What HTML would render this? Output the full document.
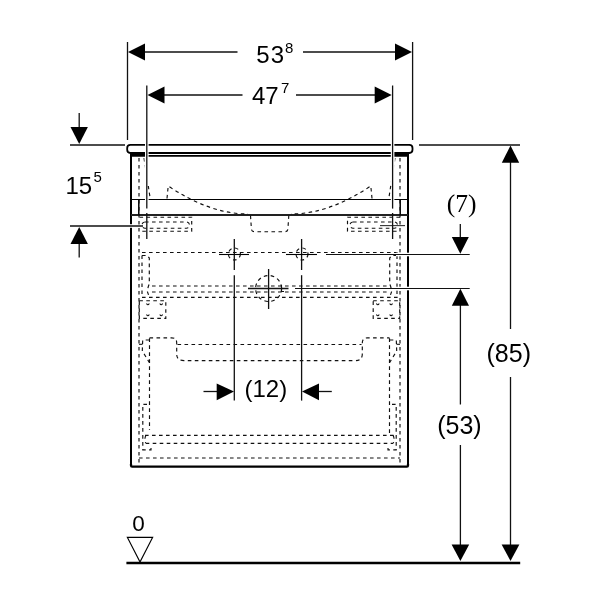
<!DOCTYPE html>
<html><head><meta charset="utf-8">
<style>
html,body{margin:0;padding:0;background:#fff;width:600px;height:600px;overflow:hidden}
svg{display:block;will-change:transform}
text{font-family:"Liberation Sans",sans-serif;fill:#000}
.serif{font-family:"Liberation Serif",serif}
</style></head><body>
<svg width="600" height="600" viewBox="0 0 600 600">
<rect width="600" height="600" fill="#fff"/>

<!-- ============ CABINET (solid) ============ -->
<g stroke="#000" fill="none">
  <rect x="127.2" y="144.9" width="285.3" height="8.1" rx="3.2" stroke-width="1.8"/>
  <line x1="131" y1="155.8" x2="408" y2="155.8" stroke-width="1.8"/>
  <rect x="131" y="153" width="14" height="2.8" fill="#000" stroke="none"/>
  <rect x="394" y="153" width="14" height="2.8" fill="#000" stroke="none"/>
  <line x1="131" y1="153" x2="131" y2="465" stroke-width="2"/>
  <line x1="408" y1="153" x2="408" y2="465" stroke-width="2"/>
  <path d="M131,464 L131,465.5 Q131,466.6 132.1,466.6 L406.9,466.6 Q408,466.6 408,465.5 L408,464" stroke-width="2.3" stroke-linejoin="round"/>
  <line x1="131" y1="199.5" x2="408" y2="199.5" stroke-width="1.15"/>
  <line x1="131" y1="215" x2="408" y2="215" stroke-width="1.8" stroke="#222"/>
  <line x1="138.8" y1="199.5" x2="138.8" y2="215" stroke-width="1.5"/>
  <line x1="400.2" y1="199.5" x2="400.2" y2="215" stroke-width="1.5"/>
</g>

<!-- dashed hidden lines -->
<g stroke="#111" stroke-width="1.15" fill="none" stroke-dasharray="3.6 3.4">
  <line x1="139" y1="158" x2="139" y2="466"/>
  <line x1="400" y1="158" x2="400" y2="466"/>
  <!-- basin -->
  <path d="M144,158 L150.2,198.5 M167,198.5 L168.2,186 Q210,214 248,214"/>
  <path d="M395,158 L388.8,198.5 M372,198.5 L370.8,186 Q329,214 291,214"/>
  <path d="M250.5,215.5 L251.4,229 Q251.7,231.7 254.5,231.7 L284.8,231.7 Q287.6,231.7 287.9,229 L288.8,215.5"/>
  <!-- brackets -->
  <path d="M139.5,217.2 L191.7,217.2 L191.7,231.2 L139.5,231.2"/>
  <path d="M400,217.2 L347.5,217.2 L347.5,231.2 L400,231.2"/>
  <rect x="142" y="222" width="47.5" height="6.2" rx="3"/>
  <rect x="350" y="222" width="47.5" height="6.2" rx="3"/>
  <!-- crosshair rows -->
  <line x1="142" y1="252.5" x2="399" y2="252.5"/>
  <circle cx="234.4" cy="254" r="6"/>
  <circle cx="302" cy="254" r="6"/>
  <circle cx="268.6" cy="288.5" r="13"/>
  <!-- upper drawer -->
  <path d="M142,255.5 L147,255.5 L149.3,258 L149.3,284 Q147.5,288 147.5,292 L149.3,297"/>
  <path d="M142,255.5 L142,297"/>
  <path d="M397,255.5 L392,255.5 L389.7,258 L389.7,284 Q391.5,288 391.5,292 L389.7,297"/>
  <path d="M397,255.5 L397,297"/>
  <line x1="152" y1="286" x2="387" y2="286"/>
  <line x1="152" y1="292" x2="387" y2="292"/>
  <line x1="142" y1="297.4" x2="399" y2="297.4"/>
  <rect x="139.3" y="300.7" width="26.5" height="17.6"/>
  <rect x="373.2" y="300.7" width="26.5" height="17.6"/>
  <!-- lower drawer -->
  <line x1="149.5" y1="338.3" x2="149.5" y2="430"/>
  <line x1="389.5" y1="338.3" x2="389.5" y2="435"/>
  <path d="M149.5,337.8 L171.5,337.8 Q176.7,337.8 176.7,343 L176.7,354 Q176.7,360.6 184,360.6 L355,360.6 Q362.3,360.6 362.3,354 L362.3,343 Q362.3,337.8 367.5,337.8 L389.5,337.8"/>
  <line x1="177.5" y1="344.5" x2="361.5" y2="344.5"/>
  <path d="M149.3,340 L142.7,340 L142.3,351 L149.5,362.7"/>
  <path d="M389.7,340 L396.3,340 L396.7,351 L389.5,362.7"/>
  <path d="M147,404.3 L142.8,404.3 L142.8,449.8 L151,449.8 L151,446"/>
  <path d="M392,404.3 L396.2,404.3 L396.2,449.8 L388,449.8 L388,446"/>
  <path d="M146,435.3 Q144,439 145.7,443 M393,435.3 Q395,439 393.3,443"/>
  <line x1="145" y1="435.3" x2="394" y2="435.3"/>
  <line x1="145.7" y1="443.3" x2="393.3" y2="443.3"/>
  <line x1="139" y1="458" x2="400" y2="458"/>
</g>
<!-- small screw marks -->
<g stroke="#111" stroke-width="1.1" fill="none">
  <path d="M146.5,303.5 q1.4,2.6 2.8,0 M159.8,303.5 q1.4,2.6 2.8,0 M146.5,314.5 q1.4,2.6 2.8,0 M159.8,314.5 q1.4,2.6 2.8,0"/>
  <path d="M376.4,303.5 q1.4,2.6 2.8,0 M389.7,303.5 q1.4,2.6 2.8,0 M376.4,314.5 q1.4,2.6 2.8,0 M389.7,314.5 q1.4,2.6 2.8,0"/>
  <line x1="139" y1="344.3" x2="142.5" y2="344.3"/>
  <line x1="396.5" y1="344.3" x2="400" y2="344.3"/>
  <line x1="380" y1="225.6" x2="405" y2="225.6" stroke="#333"/>
</g>

<!-- ============ WHITE HALOS under dimension lines ============ -->
<g stroke="#fff" stroke-width="3.6" fill="none">
  <line x1="146.8" y1="142" x2="146.8" y2="158"/>
  <line x1="392.6" y1="142" x2="392.6" y2="158"/>
  <line x1="146.8" y1="158" x2="146.8" y2="186" stroke-width="4.5"/>
  <line x1="392.6" y1="158" x2="392.6" y2="186" stroke-width="4.5"/>
  <line x1="146.8" y1="197" x2="146.8" y2="202"/>
  <line x1="392.6" y1="197" x2="392.6" y2="202"/>
  <line x1="126" y1="226" x2="136" y2="226"/>
  <line x1="396" y1="254.5" x2="412" y2="254.5"/>
  <line x1="396" y1="288.5" x2="412" y2="288.5"/>
</g>

<!-- ============ DIMENSION LINES ============ -->
<g stroke="#111" stroke-width="1.3" fill="none">
  <!-- 53.8 -->
  <line x1="127.5" y1="42" x2="127.5" y2="140"/>
  <line x1="412.6" y1="42" x2="412.6" y2="140"/>
  <line x1="140" y1="52" x2="237.5" y2="52"/>
  <line x1="303" y1="52" x2="400" y2="52"/>
  <!-- 47.7 -->
  <line x1="146.8" y1="85.5" x2="146.8" y2="208.6"/>
  <line x1="146.8" y1="213" x2="146.8" y2="239"/>
  <line x1="392.6" y1="85.5" x2="392.6" y2="208.6"/>
  <line x1="392.6" y1="213" x2="392.6" y2="239"/>
  <line x1="160" y1="95" x2="242.5" y2="95"/>
  <line x1="296" y1="95" x2="380" y2="95"/>
  <!-- 15.5 -->
  <line x1="70" y1="145" x2="125" y2="145"/>
  <line x1="79.2" y1="113" x2="79.2" y2="130"/>
  <line x1="70" y1="226" x2="143" y2="226"/>
  <line x1="79.2" y1="240" x2="79.2" y2="257.5"/>
  <!-- (7) -->
  <line x1="326" y1="254.5" x2="469.7" y2="254.5" stroke-width="1.2"/>
  <line x1="460.3" y1="224" x2="460.3" y2="240"/>
  <!-- (85) -->
  <line x1="419" y1="145" x2="520" y2="145"/>
  <line x1="510.5" y1="158" x2="510.5" y2="329"/>
  <line x1="510.5" y1="377" x2="510.5" y2="548"/>
  <!-- (53) -->
  <line x1="295" y1="288.5" x2="469.7" y2="288.5" stroke-width="1.2"/>
  <line x1="460.4" y1="300" x2="460.4" y2="404.5"/>
  <line x1="460.4" y1="445" x2="460.4" y2="548"/>
  <!-- (12) -->
  <line x1="234.3" y1="239" x2="234.3" y2="270"/>
  <line x1="234.3" y1="275.2" x2="234.3" y2="400.6"/>
  <line x1="301.6" y1="239" x2="301.6" y2="270"/>
  <line x1="301.6" y1="275.2" x2="301.6" y2="400.6"/>
  <line x1="203.5" y1="391.5" x2="220" y2="391.5"/>
  <line x1="315" y1="391.5" x2="331.8" y2="391.5"/>
</g>

<!-- crosshair solids -->
<g stroke="#111" stroke-width="1.3" fill="none">
  <line x1="219" y1="254.5" x2="249" y2="254.5" stroke-width="1.1" stroke="#000"/>
  <line x1="286" y1="254.5" x2="317" y2="254.5" stroke-width="1.1" stroke="#000"/>
  <line x1="248" y1="288.5" x2="288.5" y2="288.5"/>
  <line x1="268.6" y1="269" x2="268.6" y2="309"/>
  <path d="M281.5,285 L281.5,291.5 L284,291.5" stroke-width="1.1"/>
</g>

<!-- arrows -->
<g fill="#000" stroke="none">
  <polygon points="128,52 145,43.5 145,60.5"/>
  <polygon points="412,52 395,43.5 395,60.5"/>
  <polygon points="147.5,95 164.5,86.5 164.5,103.5"/>
  <polygon points="391.7,95 374.7,86.5 374.7,103.5"/>
  <polygon points="79.2,144 70.5,127 87.9,127"/>
  <polygon points="79.2,227 70.5,244 87.9,244"/>
  <polygon points="460.3,253.7 451.8,237 468.8,237"/>
  <polygon points="510.5,145.6 501.8,162.8 519.2,162.8"/>
  <polygon points="510.5,561 501.6,544.4 519.4,544.4"/>
  <polygon points="460.4,288.7 451.8,305.7 469,305.7"/>
  <polygon points="460.4,561 451.6,544.4 469.2,544.4"/>
  <polygon points="234,391.5 216.7,383.6 216.7,400.2"/>
  <polygon points="302,391.5 319,383.6 319,400.2"/>
</g>

<!-- text -->
<g font-size="24">
  <text x="256.3" y="62.6" letter-spacing="1">53</text>
  <text x="285" y="53" font-size="15">8</text>
  <text x="252" y="103.8">47</text>
  <text x="281" y="93.2" font-size="15">7</text>
  <text x="65.5" y="194.2">15</text>
  <text x="93.5" y="182" font-size="15">5</text>
  <text x="244.5" y="397">(12)</text>
  <text x="486.5" y="362" font-size="25">(85)</text>
  <text x="437.2" y="433.5" font-size="25">(53)</text>
  <text x="132.3" y="531.4" font-size="22.5">0</text>
  <text class="serif" x="446.8" y="212.3" font-size="25.5">(7)</text>
</g>

<!-- baseline -->
<line x1="126.4" y1="563" x2="520.2" y2="563" stroke="#000" stroke-width="2.4"/>
<polygon points="127.4,537.4 152.6,537.4 140,562" fill="none" stroke="#000" stroke-width="1.2"/>

</svg>
</body></html>
